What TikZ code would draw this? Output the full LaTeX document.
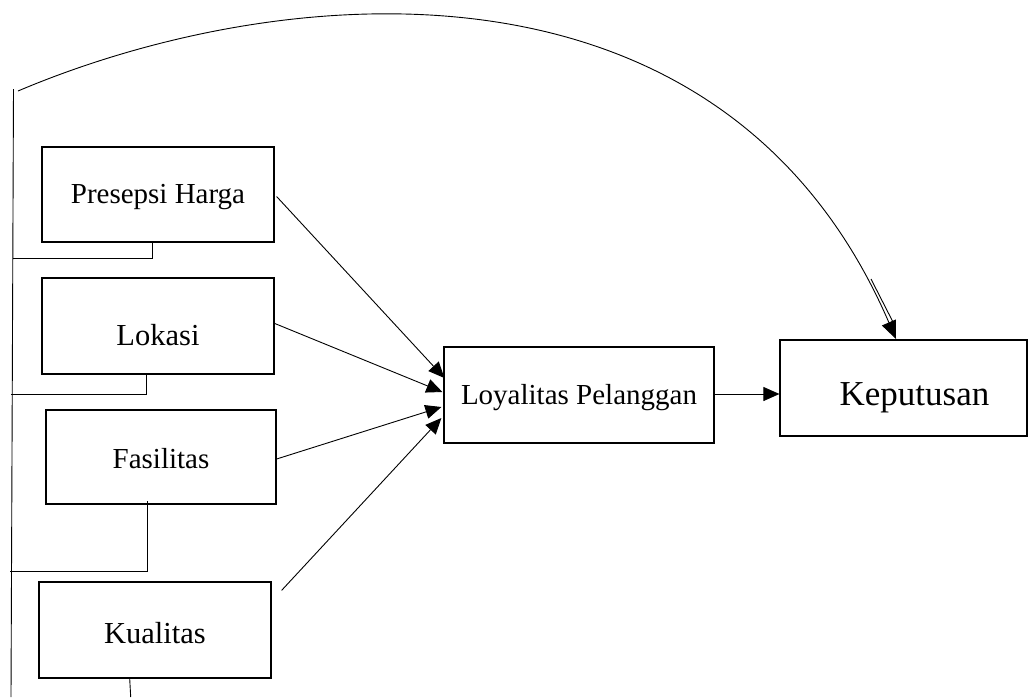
\documentclass[tikz,border=0pt]{standalone}
\usepackage{fontspec}
\setmainfont{Liberation Serif}
\usetikzlibrary{arrows.meta,calc}

% keep a text's box size but draw it lower inside its node
\newcommand{\dropby}[2]{\raisebox{-#1}[\height][\depth]{#2}}

\begin{document}
\begin{tikzpicture}[x=1pt,y=-1pt,
  box/.style={draw=black,line width=1.2pt,fill=white,inner sep=0pt,
    font=\fontsize{29}{34}\selectfont},
  conn/.style={draw=black,line width=0.9pt},
  arr/.style={conn,-{Triangle[length=16pt,width=14pt]}},
  bigarr/.style={conn,-{Triangle[length=18pt,width=15pt]}}]

\useasboundingbox (0,0) rectangle (1028,697);

% factor boxes
\node[box,minimum width=232pt,minimum height=95pt] (pres) at (158,194.5) {\dropby{3pt}{Presepsi Harga}};
\node[box,minimum width=232pt,minimum height=96pt,font=\fontsize{30.5}{36}\selectfont]
  (lok) at (158,326) {\dropby{9pt}{Lokasi}};
\node[box,minimum width=230pt,minimum height=94pt] (fas) at (161,457) {\dropby{2pt}{Fasilitas}};
\node[box,minimum width=232pt,minimum height=96pt,font=\fontsize{30.5}{36}\selectfont]
  (kual) at (155,630) {\dropby{3pt}{Kualitas}};

% mediating and outcome boxes
\node[box,minimum width=270pt,minimum height=96pt] (loy) at (579,395) {\dropby{3pt}{Loyalitas Pelanggan}};
\node[box,minimum width=247pt,minimum height=96pt,font=\fontsize{35}{41}\selectfont]
  (kep) at (903.5,388) {\dropby{10pt}{\hspace*{22pt}Keputusan}};

% free ends of the lines
\coordinate (cstart) at (18,91);
\coordinate (ctip) at (896,339);
\coordinate (ltop) at (13.5,89);
\coordinate (lbot) at (11,697);

% arrows into Loyalitas Pelanggan
\draw[arr] ($(pres.east)+(2,2)$) -- ($(loy.west)+(1,-17)$);
\draw[arr] ($(lok.east)+(-1,-3)$) -- ($(loy.west)+(-1,-3)$);
\draw[arr] ($(fas.east)+(0,2)$) -- ($(loy.west)+(-2,12)$);
\draw[arr] ($(kual.north east)+(10,9)$) -- ($(loy.west)+(-2,23)$);

% Loyalitas Pelanggan to Keputusan
\draw[arr] (loy.east |- 0,394) -- (kep.west |- 0,394);

% long curved arrow over the top
\draw[bigarr] (cstart) .. controls (280,-20) and (723,-62) .. (ctip);
\draw[conn] (871,279) -- (895,326);

% left spine with brackets under the boxes
\draw[conn] (ltop) -- (lbot);
\draw[conn] (pres.south -| 152,0) -- (152,258) -- (12.7,258);
\draw[conn] (lok.south -| 146.3,0) -- (146.3,394) -- (11,394);
\draw[conn] (147.7,501) -- (147.7,571.7) -- (10,571.7);
\draw[conn] (kual.south -| 129.7,0) -- (130.7,697);

\end{tikzpicture}
\end{document}
